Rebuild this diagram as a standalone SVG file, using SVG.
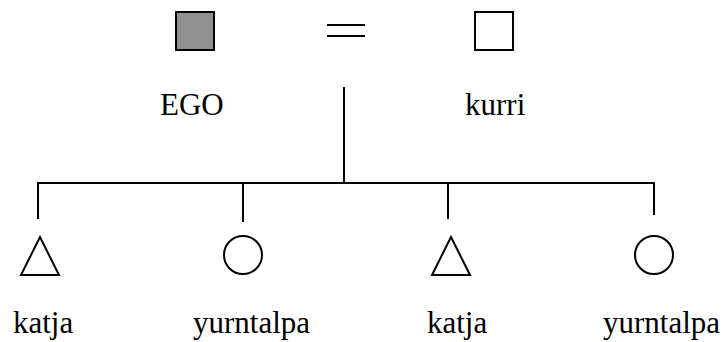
<svg xmlns="http://www.w3.org/2000/svg" width="727" height="342" viewBox="0 0 727 342">
<style>
.s{stroke:#000;stroke-width:2;fill:#fff}
.l{stroke:#000;stroke-width:2;fill:none}
text{font-family:"Liberation Serif","Times New Roman",serif;font-size:31px;fill:#000}
</style>
<rect width="727" height="342" fill="#fff"/>
<g id="connectors">
<line class="l" x1="327" y1="25" x2="365" y2="25"/>
<line class="l" x1="327" y1="36" x2="365" y2="36"/>
<line class="l" x1="344" y1="87" x2="344" y2="183"/>
<line class="l" x1="37" y1="183" x2="655" y2="183"/>
<line class="l" x1="38" y1="182" x2="38" y2="219"/>
<line class="l" x1="243" y1="182" x2="243" y2="222"/>
<line class="l" x1="448" y1="182" x2="448" y2="219"/>
<line class="l" x1="654" y1="182" x2="654" y2="215"/>
</g>
<g id="ego"><rect class="s" x="176" y="12" width="38" height="38" style="fill:#909090"/><text x="160" y="115">EGO</text></g>
<g id="kurri"><rect class="s" x="475" y="12" width="38" height="38"/><text x="465" y="115">kurri</text></g>
<g id="katja1"><polygon class="s" points="40,237 21,275 59,275"/><text x="13" y="333">katja</text></g>
<g id="yurntalpa1"><circle class="s" cx="243" cy="255" r="19"/><text x="193" y="333">yurntalpa</text></g>
<g id="katja2"><polygon class="s" points="451,237 432,275 470,275"/><text x="427" y="333">katja</text></g>
<g id="yurntalpa2"><circle class="s" cx="654" cy="255" r="19"/><text x="603" y="333">yurntalpa</text></g>
</svg>
